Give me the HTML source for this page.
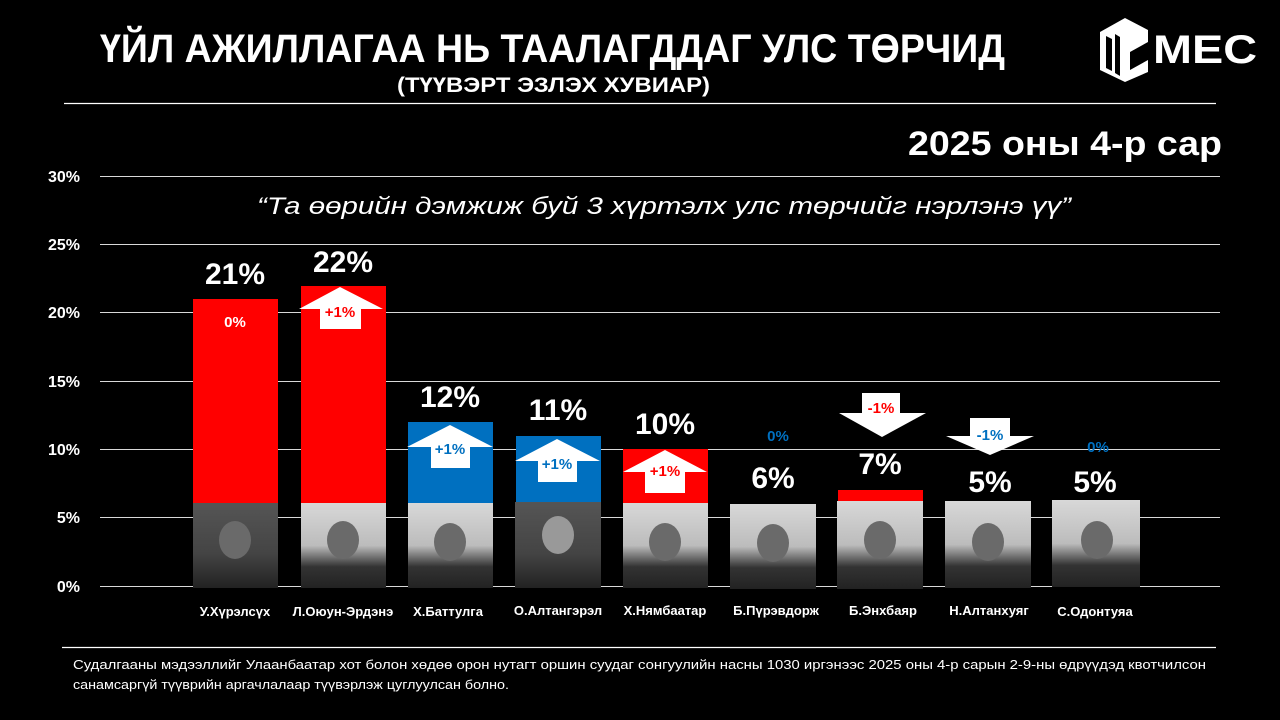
<!DOCTYPE html>
<html><head><meta charset="utf-8"><style>
html,body{margin:0;padding:0;background:#000;}
svg{display:block;font-family:"Liberation Sans","DejaVu Sans",sans-serif;}
</style></head><body>
<svg width="1280" height="720" viewBox="0 0 1280 720" xmlns="http://www.w3.org/2000/svg">
<defs>
<linearGradient id="pg" x1="0" y1="0" x2="0" y2="1">
<stop offset="0" stop-color="#d8d8d8"/><stop offset="0.5" stop-color="#bcbcbc"/><stop offset="0.75" stop-color="#333"/><stop offset="1" stop-color="#222"/>
</linearGradient>
<linearGradient id="pd" x1="0" y1="0" x2="0" y2="1">
<stop offset="0" stop-color="#555"/><stop offset="0.6" stop-color="#444"/><stop offset="1" stop-color="#222"/>
</linearGradient>
</defs>
<rect width="1280" height="720" fill="#000"/>
<text x="100" y="62" font-size="40" font-weight="bold" fill="#fff" textLength="905" lengthAdjust="spacingAndGlyphs">ҮЙЛ АЖИЛЛАГАА НЬ ТААЛАГДДАГ УЛС ТӨРЧИД</text>
<text x="397" y="92" font-size="21" font-weight="bold" fill="#fff" textLength="313" lengthAdjust="spacingAndGlyphs">(ТҮҮВЭРТ ЭЗЛЭХ ХУВИАР)</text>
<!-- logo -->
<g fill="#fff">
<path d="M1100 32 L1125 18 L1148 30 L1148 42 L1130 52 L1130 70 L1148 60 L1148 72 L1125 82 L1100 70 Z"/>
<path d="M1106 36 L1106 68 L1112 71 L1112 39 Z M1115 34 L1115 73 L1120 76 L1120 37 Z" fill="#000"/>
</g>
<text x="1153" y="63" font-size="40" font-weight="bold" fill="#fff" textLength="104" lengthAdjust="spacingAndGlyphs">MEC</text>
<line x1="64" y1="103.5" x2="1216" y2="103.5" stroke="#fff" stroke-width="1.2"/>
<text x="1222" y="155" font-size="34" font-weight="bold" fill="#fff" text-anchor="end" textLength="314" lengthAdjust="spacingAndGlyphs">2025 оны 4-р сар</text>
<!-- grid -->
<g stroke="#d9d9d9" stroke-width="1">
<line x1="100" y1="176.5" x2="1220" y2="176.5"/>
<line x1="100" y1="244.5" x2="1220" y2="244.5"/>
<line x1="100" y1="312.5" x2="1220" y2="312.5"/>
<line x1="100" y1="381.5" x2="1220" y2="381.5"/>
<line x1="100" y1="449.5" x2="1220" y2="449.5"/>
<line x1="100" y1="517.5" x2="1220" y2="517.5"/>
<line x1="100" y1="586.5" x2="1220" y2="586.5"/>
</g>
<g font-size="16" font-weight="bold" fill="#fff" text-anchor="end">
<text x="80" y="182">30%</text><text x="80" y="250">25%</text><text x="80" y="318">20%</text>
<text x="80" y="387">15%</text><text x="80" y="455">10%</text><text x="80" y="523">5%</text><text x="80" y="592">0%</text>
</g>
<text x="664" y="214" font-size="24" font-style="italic" fill="#fff" text-anchor="middle" textLength="814" lengthAdjust="spacingAndGlyphs">“Та өөрийн дэмжиж буй 3 хүртэлх улс төрчийг нэрлэнэ үү”</text>
<!-- bars -->
<rect x="193" y="299" width="85" height="287" fill="#ff0000"/>
<rect x="301" y="286" width="85" height="300" fill="#ff0000"/>
<rect x="408" y="422" width="85" height="164" fill="#0070c0"/>
<rect x="516" y="436" width="85" height="150" fill="#0070c0"/>
<rect x="623" y="449" width="85" height="137" fill="#ff0000"/>
<rect x="838" y="490" width="85" height="96" fill="#ff0000"/>
<!-- photos -->
<g>
<rect x="193" y="503" width="85" height="85" fill="url(#pd)"/>
<rect x="301" y="503" width="85" height="85" fill="url(#pg)"/>
<rect x="408" y="503" width="85" height="85" fill="url(#pg)"/>
<rect x="515" y="502" width="86" height="86" fill="url(#pd)"/>
<rect x="623" y="503" width="85" height="85" fill="url(#pg)"/>
<rect x="730" y="504" width="86" height="85" fill="url(#pg)"/>
<rect x="837" y="501" width="86" height="88" fill="url(#pg)"/>
<rect x="945" y="501" width="86" height="87" fill="url(#pg)"/>
<rect x="1052" y="500" width="88" height="87" fill="url(#pg)"/>
</g>
<g fill="#6a6a6a">
<ellipse cx="235" cy="540" rx="16" ry="19"/><ellipse cx="343" cy="540" rx="16" ry="19"/><ellipse cx="450" cy="542" rx="16" ry="19"/>
<ellipse cx="558" cy="535" rx="16" ry="19" fill="#999"/><ellipse cx="665" cy="542" rx="16" ry="19"/><ellipse cx="773" cy="543" rx="16" ry="19"/>
<ellipse cx="880" cy="540" rx="16" ry="19"/><ellipse cx="988" cy="542" rx="16" ry="19"/><ellipse cx="1097" cy="540" rx="16" ry="19"/>
</g>
<!-- value labels -->
<g font-size="30" font-weight="bold" fill="#fff" text-anchor="middle">
<text x="235" y="284">21%</text><text x="343" y="272">22%</text><text x="450" y="407">12%</text>
<text x="558" y="420">11%</text><text x="665" y="434">10%</text><text x="773" y="488">6%</text>
<text x="880" y="474">7%</text><text x="990" y="492">5%</text><text x="1095" y="492">5%</text>
</g>
<!-- up arrows -->
<g fill="#fff">
<path d="M299 309 L340 287 L383 309 L361 309 L361 329 L320 329 L320 309 Z"/>
<path d="M407 447 L450 425 L493 447 L470 447 L470 468 L431 468 L431 447 Z"/>
<path d="M515 461 L557 439 L600 461 L577 461 L577 482 L538 482 L538 461 Z"/>
<path d="M623 472 L665 450 L707 472 L685 472 L685 493 L645 493 L645 472 Z"/>
<path d="M839 413 L862 413 L862 393 L900 393 L900 413 L926 413 L882 437 Z"/>
<path d="M946 436 L970 436 L970 418 L1010 418 L1010 436 L1034 436 L990 455 Z"/>
</g>
<g font-size="15" font-weight="bold" text-anchor="middle">
<text x="235" y="327" fill="#fff">0%</text>
<text x="340" y="317" fill="#ff0000">+1%</text>
<text x="450" y="454" fill="#0070c0">+1%</text>
<text x="557" y="469" fill="#0070c0">+1%</text>
<text x="665" y="476" fill="#ff0000">+1%</text>
<text x="778" y="441" fill="#0070c0">0%</text>
<text x="881" y="413" fill="#ff0000">-1%</text>
<text x="990" y="440" fill="#0070c0">-1%</text>
<text x="1098" y="452" fill="#0070c0">0%</text>
</g>
<!-- names -->
<g font-size="13" font-weight="bold" fill="#fff" text-anchor="middle">
<text x="235" y="616">У.Хүрэлсүх</text><text x="343" y="616">Л.Оюун-Эрдэнэ</text><text x="448" y="616">Х.Баттулга</text>
<text x="558" y="615">О.Алтангэрэл</text><text x="665" y="615">Х.Нямбаатар</text><text x="776" y="615">Б.Пүрэвдорж</text>
<text x="883" y="615">Б.Энхбаяр</text><text x="989" y="615">Н.Алтанхуяг</text><text x="1095" y="616">С.Одонтуяа</text>
</g>
<line x1="62" y1="647.5" x2="1216" y2="647.5" stroke="#fff" stroke-width="1.2"/>
<g font-size="13" fill="#fff">
<text x="73" y="669" textLength="1133" lengthAdjust="spacingAndGlyphs">Судалгааны мэдээллийг Улаанбаатар хот болон хөдөө орон нутагт оршин суудаг сонгуулийн насны 1030 иргэнээс 2025 оны 4-р сарын 2-9-ны өдрүүдэд квотчилсон</text>
<text x="73" y="689" textLength="436" lengthAdjust="spacingAndGlyphs">санамсаргүй түүврийн аргачлалаар түүвэрлэж цуглуулсан болно.</text>
</g>
</svg>
</body></html>
